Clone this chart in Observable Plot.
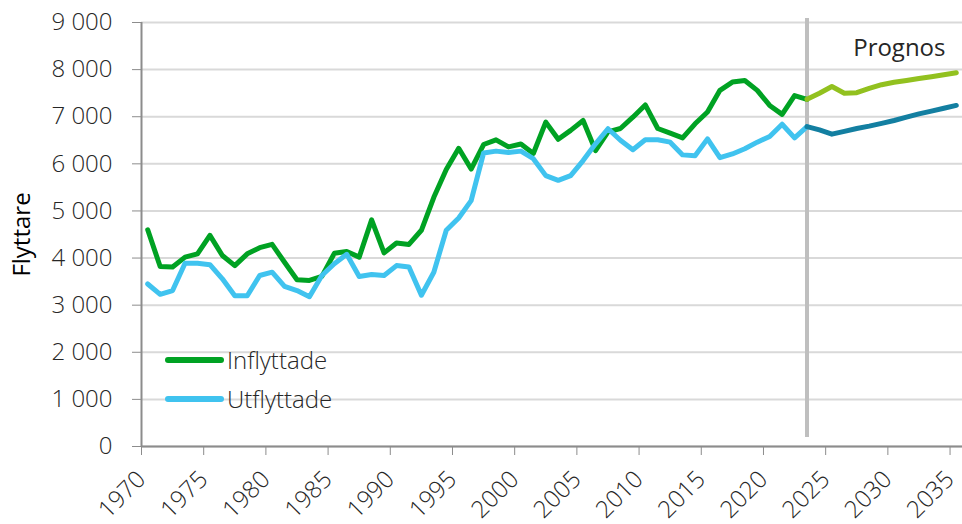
<!DOCTYPE html>
<html>
<head>
<meta charset="utf-8">
<script src="https://cdn.jsdelivr.net/npm/d3@7"></script>
<script src="https://cdn.jsdelivr.net/npm/@observablehq/plot@0.6"></script>
<style>
  html, body { margin: 0; padding: 0; background: #fff; }
  #wrap { position: relative; width: 962px; height: 524px; font-family: "Open Sans", sans-serif; }
  #legend { position: absolute; left: 164px; top: 340px; font-size: 24px; color: #262626; font-weight: 300; }
  .item { display: flex; align-items: center; height: 39px; }
  .item svg { margin-right: 3px; }
</style>
</head>
<body>
<div id="wrap"></div>
<script>
// Historical years
const years = d3.range(1970, 2024);
const inflyttade = [4600, 3820, 3810, 4020, 4090, 4480, 4055, 3840, 4090, 4220,
  4290, 3910, 3540, 3525, 3610, 4100, 4140, 4020, 4810, 4110,
  4320, 4290, 4590, 5290, 5880, 6330, 5890, 6410, 6510, 6360,
  6420, 6220, 6885, 6520, 6710, 6920, 6280, 6680, 6750, 6990,
  7250, 6750, 6650, 6550, 6850, 7100, 7560, 7735, 7770, 7560,
  7240, 7050, 7450, 7370];
const utflyttade = [3450, 3230, 3310, 3890, 3890, 3860, 3560, 3200, 3200, 3630,
  3700, 3400, 3310, 3180, 3630, 3880, 4080, 3610, 3650, 3630,
  3840, 3810, 3210, 3700, 4590, 4850, 5220, 6230, 6270, 6240,
  6270, 6110, 5750, 5650, 5750, 6070, 6425, 6745, 6500, 6300,
  6510, 6510, 6460, 6190, 6170, 6530, 6130, 6210, 6320, 6460,
  6580, 6840, 6550, 6790];
// Forecast
const prognosYears = d3.range(2023, 2036);
const prognosIn = [7370, 7500, 7640, 7500, 7510, 7600, 7680, 7730, 7770, 7810, 7850, 7890, 7935];
const prognosUt = [6790, 6720, 6630, 6690, 6750, 6800, 6860, 6920, 6990, 7060, 7120, 7180, 7240];
const forecastStart = 2023;
const xTicks = d3.range(1970, 2036, 5);
const yTicks = d3.range(0, 9001, 1000);
const seriesNames = ["Inflyttade", "Utflyttade"];
const yLabel = "Flyttare";
const prognosLabel = "Prognos";
const colors = { in: "#00a223", ut: "#40c3ef", pin: "#92c11f", put: "#137fa1" };

const hist = years.map((y, i) => ({ year: y, in: inflyttade[i], ut: utflyttade[i] }));
const prog = prognosYears.map((y, i) => ({ year: y, in: prognosIn[i], ut: prognosUt[i] }));
const cx = d => d.year + 0.5; // category centre

const fmt = d => d3.format(",")(d).replace(/,/g, "\u00a0");

const chart = Plot.plot({
  width: 962,
  height: 524,
  marginLeft: 141,
  marginRight: 0,
  marginTop: 22,
  marginBottom: 78,
  style: { fontFamily: "'Open Sans', sans-serif", fontSize: "24px", color: "#262626", background: "#fff", fontWeight: 300, overflow: "visible" },
  x: { domain: [1970, 2036] },
  y: { domain: [0, 9000] },
  marks: [
    Plot.gridY(yTicks, { stroke: "#d9d9d9", strokeOpacity: 1, strokeWidth: 2 }),
    Plot.ruleX([forecastStart], { x: d => d + 0.5, stroke: "#bfbfbf", strokeWidth: 4, insetTop: -4, insetBottom: 9 }),
    Plot.line(hist, { x: cx, y: "in", stroke: colors.in, strokeWidth: 5, strokeLinejoin: "round" }),
    Plot.line(hist, { x: cx, y: "ut", stroke: colors.ut, strokeWidth: 5, strokeLinejoin: "round" }),
    Plot.line(prog, { x: cx, y: "in", stroke: colors.pin, strokeWidth: 5, strokeLinejoin: "round" }),
    Plot.line(prog, { x: cx, y: "ut", stroke: colors.put, strokeWidth: 5, strokeLinejoin: "round" }),
    Plot.ruleY([0], { stroke: "#8c8c8c", strokeWidth: 2 }),
    Plot.ruleX([1970], { stroke: "#8c8c8c", strokeWidth: 2 }),
    Plot.axisY({ ticks: yTicks, tickSize: 9, tickPadding: 20, tickFormat: fmt, stroke: "#8c8c8c", fill: "#262626", label: null }),
    // tick marks
    Plot.axisX({ ticks: xTicks, tickSize: 9, tickFormat: () => "", stroke: "#8c8c8c", label: null }),
    // rotated tick labels
    Plot.axisX({ ticks: xTicks, tickSize: 9, tickRotate: -45, tickFormat: d => String(d), strokeOpacity: 0, fill: "#262626", label: null, dx: 0, dy: 14 }),
    Plot.text([yLabel], { frameAnchor: "left", dx: -119, rotate: -90, textAnchor: "middle", fontSize: 24, fontWeight: 400, fill: "#000" }),
    Plot.text([prognosLabel], { frameAnchor: "top-right", dx: -17, dy: 26, lineAnchor: "middle", textAnchor: "end", fontSize: 24, fontWeight: 400, fill: "#262626" })
  ]
});

const wrap = document.getElementById("wrap");
wrap.appendChild(chart);

const legend = document.createElement("div");
legend.id = "legend";
[colors.in, colors.ut].forEach((c, i) => {
  const item = document.createElement("div");
  item.className = "item";
  item.innerHTML = `<svg width="60" height="8"><line x1="4" y1="4" x2="57" y2="4" stroke="${c}" stroke-width="6" stroke-linecap="round"/></svg><span>${seriesNames[i]}</span>`;
  legend.appendChild(item);
});
wrap.appendChild(legend);
</script>
</body>
</html>
